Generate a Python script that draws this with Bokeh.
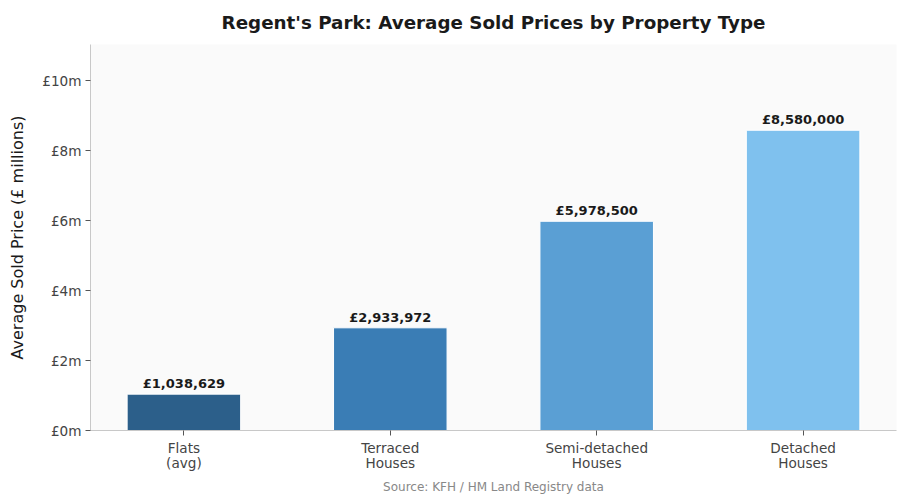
from bokeh.plotting import figure
from bokeh.models import ColumnDataSource, Range1d, FixedTicker, CustomJSTickFormatter, Title
from bokeh.core.properties import value
from bokeh.embed import file_html
from bokeh.resources import INLINE

categories = ["Flats\n(avg)", "Terraced\nHouses", "Semi-detached\nHouses", "Detached\nHouses"]
prices = [1038629, 2933972, 5978500, 8580000]
price_labels = ["£1,038,629", "£2,933,972", "£5,978,500", "£8,580,000"]
colors = ["#2c5f8a", "#3a7db5", "#5a9fd4", "#7fc1ee"]
y_ticks = [0, 2000000, 4000000, 6000000, 8000000, 10000000]

xs = list(range(len(categories)))
src = ColumnDataSource(dict(x=xs, price=prices, label=price_labels, color=colors))

p = figure(width=906, height=503, output_backend="svg", toolbar_location=None,
           x_range=Range1d(-0.4525, len(categories) - 1 + 0.4525),
           y_range=Range1d(0, 11030000),
           min_border_left=90, min_border_right=10, min_border_top=44, min_border_bottom=73)

p.vbar(x="x", top="price", width=0.55, fill_color="color", line_color="white", line_width=1, source=src)
p.text(x="x", y="price", text="label", source=src, y_offset=-3,
       text_align="center", text_baseline="bottom",
       text_font=value("DejaVu Sans"), text_font_style="bold", text_font_size="13px", text_color="#1a1a1a")

p.background_fill_color = "#fafafa"
p.border_fill_color = "white"
p.outline_line_color = None
p.xgrid.visible = False
p.ygrid.visible = False

p.xaxis.ticker = FixedTicker(ticks=xs)
p.xaxis.major_label_overrides = {i: c for i, c in zip(xs, categories)}

p.yaxis.ticker = FixedTicker(ticks=y_ticks)
p.yaxis.formatter = CustomJSTickFormatter(code="return '£' + (tick/1e6).toFixed(0) + 'm';")
p.yaxis.axis_label = "Average Sold Price (£ millions)"
p.yaxis.axis_label_text_font = "DejaVu Sans"
p.yaxis.axis_label_text_font_style = "normal"
p.yaxis.axis_label_text_font_size = "16px"
p.yaxis.axis_label_text_color = "#1a1a1a"
p.yaxis.axis_label_standoff = 12

for ax in (p.xaxis, p.yaxis):
    ax.axis_line_color = "#c8c8c8"
    ax.major_tick_line_color = "#555555"
    ax.minor_tick_line_color = None
    ax.major_tick_in = 0
    ax.major_tick_out = 5
    ax.major_label_text_font = "DejaVu Sans"
    ax.major_label_text_font_size = "13.6px"
    ax.major_label_text_color = "#444444"
    ax.major_label_standoff = 4

p.xaxis.major_label_text_line_height = 0.95

p.title.text = "Regent's Park: Average Sold Prices by Property Type"
p.title.align = "center"
p.title.vertical_align = "top"
p.title.text_font = "DejaVu Sans"
p.title.text_font_style = "bold"
p.title.text_font_size = "18.3px"
p.title.text_color = "#1a1a1a"
p.title.offset = 0
p.title.standoff = 20

src_title = Title(text="Source: KFH / HM Land Registry data", align="center",
                  text_font="DejaVu Sans", text_font_style="normal",
                  text_font_size="12px", text_color="#888888", standoff=8)
p.add_layout(src_title, "below")

open("out.html", "w").write(file_html(p, INLINE))
